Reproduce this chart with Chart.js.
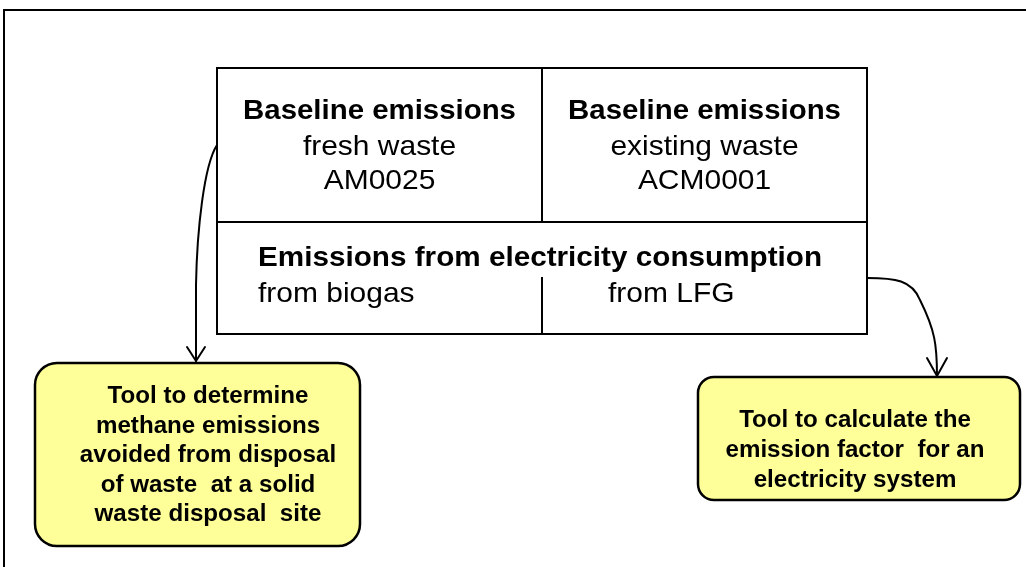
<!DOCTYPE html>
<html>
<head>
<meta charset="utf-8">
<script src="https://cdn.jsdelivr.net/npm/chart.js@4"></script>
<style>
  html, body { margin: 0; padding: 0; background: #fff; }
  canvas { display: block; }
</style>
</head>
<body>
<canvas id="diagram" width="1026" height="567"></canvas>
<script>
// Szövegek (táblázat cellái és eszköz dobozok)
const topCells = [
  ['Baseline emissions', 'fresh waste', 'AM0025'],
  ['Baseline emissions', 'existing waste', 'ACM0001']
];
const bottomTitle = 'Emissions from electricity consumption';
const bottomCells = ['from biogas', 'from LFG'];
const toolLeft = ['Tool to determine', 'methane emissions', 'avoided from disposal', 'of waste  at a solid', 'waste disposal  site'];
const toolRight = ['Tool to calculate the', 'emission factor  for an', 'electricity system'];

// Elrendezés (diagram koordináták)
const layout = {
  frame: { x: 4, y: 10 },
  table: { cols: [217, 542, 867], rows: [68, 222, 334], splitTop: 278 },
  topBaselines: [119, 155, 189],
  bottomBaselines: [266, 302],
  bottomStarts: [258, 608],
  boxLeft: { x1: 35, y1: 363, x2: 360, y2: 546, r: 22, cx: 208, base: [403, 433, 462, 492, 521] },
  boxRight: { x1: 698, y1: 377, x2: 1020, y2: 500, r: 16, cx: 855, base: [427, 457, 487] }
};

const colors = { line: '#000000', box: '#FFFF99', text: '#000000' };
const fontFamily = '"Liberation Sans", Arial, sans-serif';

function drawText(ctx, txt, x, y, font, sx, align) {
  ctx.save();
  ctx.font = font;
  ctx.textAlign = align;
  ctx.textBaseline = 'alphabetic';
  ctx.fillStyle = colors.text;
  ctx.translate(x, y);
  ctx.scale(sx, 1);
  ctx.fillText(txt, 0, 0);
  ctx.restore();
}

function arrowHead(ctx, x, y, w, h) {
  ctx.beginPath();
  ctx.moveTo(x - w, y - h);
  ctx.lineTo(x, y);
  ctx.lineTo(x + w, y - h);
  ctx.stroke();
}

const diagramPlugin = {
  id: 'diagram',
  afterDraw(chart) {
    const ctx = chart.ctx;
    const sx = chart.scales.x, sy = chart.scales.y;
    const X = v => sx.getPixelForValue(v);
    const Y = v => sy.getPixelForValue(v);

    ctx.save();
    ctx.strokeStyle = colors.line;
    ctx.lineCap = 'square';

    // Külső keret (felső és bal vonal)
    ctx.lineWidth = 2;
    ctx.beginPath();
    ctx.moveTo(X(1026), Y(layout.frame.y));
    ctx.lineTo(X(layout.frame.x), Y(layout.frame.y));
    ctx.lineTo(X(layout.frame.x), Y(567));
    ctx.stroke();

    // Táblázat
    const t = layout.table;
    ctx.lineWidth = 2;
    ctx.strokeRect(X(t.cols[0]), Y(t.rows[0]), X(t.cols[2]) - X(t.cols[0]), Y(t.rows[2]) - Y(t.rows[0]));
    ctx.beginPath();
    ctx.moveTo(X(t.cols[0]), Y(t.rows[1]));
    ctx.lineTo(X(t.cols[2]), Y(t.rows[1]));
    ctx.moveTo(X(t.cols[1]), Y(t.rows[0]));
    ctx.lineTo(X(t.cols[1]), Y(t.rows[1]));
    ctx.moveTo(X(t.cols[1]), Y(t.splitTop));
    ctx.lineTo(X(t.cols[1]), Y(t.rows[2]));
    ctx.stroke();

    // Táblázat szövegei
    const bold = 'bold 28px ' + fontFamily;
    const reg = '28px ' + fontFamily;
    topCells.forEach((cell, i) => {
      const cx = X((t.cols[i] + t.cols[i + 1]) / 2);
      cell.forEach((txt, j) => {
        drawText(ctx, txt, cx, Y(layout.topBaselines[j]), j === 0 ? bold : reg, j === 0 ? 1.05 : 1.07, 'center');
      });
    });
    drawText(ctx, bottomTitle, X(layout.bottomStarts[0]), Y(layout.bottomBaselines[0]), bold, 1.06, 'left');
    bottomCells.forEach((txt, i) => {
      drawText(ctx, txt, X(layout.bottomStarts[i]), Y(layout.bottomBaselines[1]), reg, 1.07, 'left');
    });

    // Eszköz dobozok
    [[layout.boxLeft, toolLeft], [layout.boxRight, toolRight]].forEach(([b, lines]) => {
      ctx.beginPath();
      ctx.roundRect(X(b.x1), Y(b.y1), X(b.x2) - X(b.x1), Y(b.y2) - Y(b.y1), b.r);
      ctx.fillStyle = colors.box;
      ctx.fill();
      ctx.lineWidth = 2.5;
      ctx.stroke();
      lines.forEach((txt, i) => {
        drawText(ctx, txt, X(b.cx), Y(b.base[i]), 'bold 23px ' + fontFamily, 1.05, 'center');
      });
    });

    // Összekötő nyilak
    ctx.lineWidth = 2;
    ctx.lineCap = 'round';
    ctx.beginPath();
    ctx.moveTo(X(217), Y(145));
    ctx.bezierCurveTo(X(204), Y(165), X(197), Y(230), X(196), Y(285));
    ctx.lineTo(X(196), Y(361));
    ctx.stroke();
    arrowHead(ctx, X(196), Y(361), 9, 14);

    ctx.beginPath();
    ctx.moveTo(X(867), Y(278));
    ctx.bezierCurveTo(X(895), Y(278), X(912), Y(280), X(920), Y(300));
    ctx.bezierCurveTo(X(935), Y(330), X(937), Y(345), X(937), Y(376));
    ctx.stroke();
    arrowHead(ctx, X(937), Y(376), 10, 18);

    ctx.restore();
  }
};

new Chart(document.getElementById('diagram'), {
  type: 'scatter',
  data: { datasets: [{ data: [] }] },
  options: {
    responsive: false,
    animation: false,
    layout: { padding: 0 },
    plugins: { legend: { display: false }, tooltip: { enabled: false } },
    scales: {
      x: { type: 'linear', min: 0, max: 1026, display: false },
      y: { type: 'linear', min: 0, max: 567, reverse: true, display: false }
    }
  },
  plugins: [diagramPlugin]
});
</script>
</body>
</html>
